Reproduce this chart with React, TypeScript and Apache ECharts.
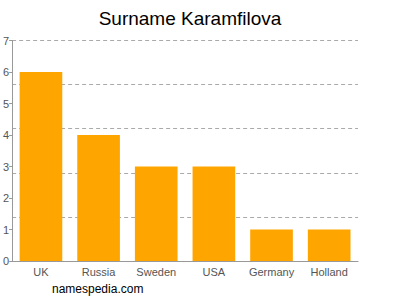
import React, { useEffect, useRef } from "react";
import * as echarts from "echarts";

const categories = ["UK", "Russia", "Sweden", "USA", "Germany", "Holland"];
const values = [6, 4, 3, 3, 1, 1];
const yTicks = [0, 1, 2, 3, 4, 5, 6, 7];

export default function App() {
  const ref = useRef<HTMLDivElement>(null);
  useEffect(() => {
    const chart = echarts.init(ref.current!, null, { renderer: "svg" });
    chart.setOption({
      animation: false,
      title: {
        text: "Surname Karamfilova",
        left: 185,
        textAlign: "center",
        top: 4,
        textStyle: { fontFamily: "Liberation Sans, Arial, sans-serif", fontSize: 19, fontWeight: "normal", color: "#000" },
      },
      graphic: [
        {
          type: "text",
          left: 52,
          top: 283,
          style: { text: "namespedia.com", font: "12px 'Liberation Sans', Arial, sans-serif", fill: "#000" },
        },
      ],
      grid: { left: 11, right: 42, top: 40.5, bottom: 39 },
      xAxis: {
        type: "category",
        data: categories,
        axisLine: { lineStyle: { color: "#999" } },
        axisTick: { alignWithLabel: true, length: 4, lineStyle: { color: "#999" } },
        axisLabel: { interval: 0, hideOverlap: false, color: "#555", fontSize: 11, fontFamily: "Liberation Sans, Arial, sans-serif", margin: 5 },
      },
      yAxis: [
        {
          type: "value",
          min: yTicks[0],
          max: yTicks[yTicks.length - 1],
          interval: 1,
          axisLine: { show: true, lineStyle: { color: "#999" } },
          axisTick: { show: true, length: 3, lineStyle: { color: "#999" } },
          axisLabel: { color: "#555", fontSize: 11, fontFamily: "Liberation Sans, Arial, sans-serif", margin: 3 },
          splitLine: { show: false },
        },
        {
          type: "value",
          min: 0,
          max: 7,
          interval: 1.4,
          position: "left",
          axisLine: { show: false },
          axisTick: { show: false },
          axisLabel: { show: false },
          splitLine: { show: true, lineStyle: { color: "#aaa", type: [4, 3], width: 1 } },
        },
      ],
      series: [
        {
          type: "bar",
          data: values,
          barWidth: "74%",
          itemStyle: { color: "#FFA500" },
          z: 3,
        },
      ],
    });
    return () => chart.dispose();
  }, []);
  return <div ref={ref} style={{ width: 400, height: 300, position: "absolute", left: 0, top: 0 }} />;
}
